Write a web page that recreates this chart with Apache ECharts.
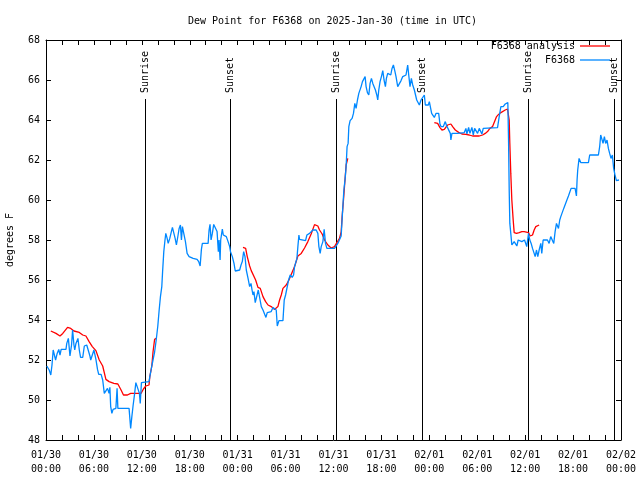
<!DOCTYPE html>
<html><head><meta charset="utf-8">
<script src="https://cdn.jsdelivr.net/npm/echarts@6/dist/echarts.min.js"></script>
<style>html,body{margin:0;padding:0;background:#fff}#c{width:640px;height:480px}</style>
</head><body><div id="c"></div>
<script>
const FONT = 'DejaVu Sans Mono';
const chartTitle = 'Dew Point for F6368 on 2025-Jan-30 (time in UTC)';
const yAxisName = 'degrees F';
const seriesNames = ['F6368 analysis', 'F6368'];
const dayLabels = ['01/30', '01/31', '02/01', '02/02'];
const sunriseHours = [12.4, 36.35, 60.42];
const sunsetHours = [23.07, 47.12, 71.2];
const eventLineTop = 65.05;

// Observed dew point (hours since 01/30 00:00 UTC, degrees F)
const obsHours = [0.1,0.4,0.6,0.75,0.9,1.2,1.4,1.6,1.75,1.9,2.5,2.6,2.8,3.0,3.2,3.33,3.5,3.6,3.75,4.0,4.17,4.33,4.6,4.8,5.1,5.33,5.5,5.6,5.8,6.0,6.25,6.45,6.6,6.9,7.1,7.3,7.5,7.7,7.9,8.0,8.1,8.25,8.4,8.75,8.9,9.0,10.4,10.6,10.75,10.9,11.1,11.25,11.45,11.7,11.8,11.95,12.9,13.0,13.25,13.4,13.6,13.8,14.0,14.17,14.33,14.5,14.6,14.75,14.9,15.0,15.17,15.3,15.5,15.7,15.83,16.04,16.17,16.33,16.54,16.67,16.83,16.96,17.08,17.25,17.46,17.67,17.92,18.42,18.92,19.12,19.3,19.46,19.58,20.3,20.42,20.54,20.67,20.83,21.0,21.25,21.42,21.58,21.67,21.8,21.875,22.08,22.2,22.37,22.58,22.8,23.0,23.1,23.33,23.54,23.7,23.92,24.25,24.42,24.58,24.75,24.92,25.08,25.3,25.5,25.67,25.8,25.92,26.04,26.2,26.42,26.58,26.75,26.96,27.17,27.42,27.54,27.7,28.2,28.42,28.67,28.83,28.96,29.17,29.67,29.83,30.0,30.2,30.375,30.5,30.58,30.83,31.0,31.125,31.42,31.54,31.67,31.75,31.96,32.5,32.67,33.0,33.2,33.42,33.625,33.83,34.04,34.17,34.33,34.46,34.67,34.83,35.0,35.17,36.125,36.33,36.54,36.75,36.96,37.17,37.3,37.46,37.58,37.7,37.83,37.92,38.08,38.33,38.5,38.67,38.83,39.0,39.17,39.33,39.46,39.625,39.83,39.96,40.08,40.25,40.42,40.58,40.75,40.92,41.08,41.25,41.42,41.54,41.67,41.83,42.0,42.17,42.33,42.5,42.625,42.79,43.0,43.17,43.33,43.5,43.67,43.83,44.04,44.25,44.46,44.67,44.875,45.08,45.29,45.42,45.58,45.75,45.92,46.125,46.25,46.42,46.58,46.75,46.96,47.17,47.375,47.5,47.67,47.875,48.0,48.17,48.29,48.5,48.625,48.83,49.17,49.33,49.46,49.75,50.0,50.17,50.33,50.5,50.625,50.7,50.83,51.54,52.375,52.58,52.7,52.92,53.08,53.33,53.5,53.67,53.92,54.04,54.25,54.46,54.58,54.75,56.54,56.75,56.96,57.25,57.5,57.67,57.83,57.92,58.0,58.08,58.2,58.33,58.5,58.625,58.83,58.96,59.125,59.375,59.58,59.75,59.92,60.08,60.2,60.42,60.58,60.75,60.92,61.125,61.25,61.42,61.58,61.75,61.96,62.08,62.25,62.79,63.0,63.2,63.42,63.58,63.75,63.92,64.04,64.17,64.33,64.46,64.67,64.83,65.08,65.25,65.42,65.58,65.75,66.25,66.42,66.5,66.58,66.75,66.96,67.92,68.08,69.17,69.33,69.46,69.58,69.75,69.92,70.08,70.25,70.42,70.58,70.75,70.92,71.08,71.25,71.42,71.625,71.75];
const obsValues = [51.7,51.5,51.25,51.75,52.5,52.0,52.33,52.53,52.25,52.53,52.53,52.83,53.08,52.2,52.75,53.5,52.75,52.5,52.83,53.08,52.5,52.13,52.13,52.7,52.75,52.7,52.2,52.0,52.0,52.5,52.03,51.53,51.28,51.28,51.0,50.33,50.33,50.58,50.33,50.63,49.67,49.33,49.53,49.58,50.58,49.58,49.58,48.58,49.17,49.7,50.33,50.87,50.87,50.33,49.83,50.87,50.92,51.17,51.7,52.0,52.4,53.0,53.7,54.5,55.17,55.67,56.42,57.42,58.0,58.33,58.08,57.83,58.08,58.42,58.63,58.63,58.08,57.75,58.25,58.58,58.75,58.0,58.67,58.75,57.92,57.33,57.17,57.08,57.03,56.92,56.7,57.53,57.83,57.83,58.5,58.78,58.0,58.33,58.78,58.78,58.42,57.42,58.0,57.0,58.0,58.55,58.25,58.2,58.17,57.92,57.67,57.42,57.17,56.83,56.45,56.5,56.5,56.75,56.92,57.42,57.17,56.5,56.08,55.67,55.83,55.5,55.25,55.42,54.87,54.87,55.5,55.58,54.67,54.5,54.5,54.13,54.37,54.42,54.63,54.67,54.5,53.7,53.97,53.97,55.0,55.25,55.25,56.0,56.0,56.25,56.13,56.25,56.67,57.08,57.67,58.25,58.03,57.97,57.97,58.25,58.33,58.33,58.5,58.53,58.5,58.33,57.67,57.33,57.67,57.92,58.53,57.83,57.58,57.58,57.67,57.83,57.92,58.2,59.67,60.5,61.08,61.67,62.67,62.83,63.67,63.97,64.08,64.33,64.83,64.58,65.0,65.33,65.33,65.67,65.92,66.0,66.17,65.67,65.37,65.25,65.83,66.08,65.83,65.75,65.5,65.25,65.0,65.5,65.92,66.17,66.47,66.0,65.67,66.08,66.33,66.42,66.25,66.58,66.75,66.47,66.17,65.67,65.7,65.97,66.17,66.08,66.25,66.75,66.25,65.67,66.08,65.75,65.5,65.42,65.0,64.92,64.75,65.0,65.08,65.25,64.75,64.83,64.75,64.92,64.97,64.33,64.33,64.13,64.33,64.33,63.8,63.67,63.67,63.92,63.7,63.58,63.67,63.33,63.0,63.33,63.33,63.37,63.58,63.3,63.63,63.33,63.63,63.25,63.58,63.58,63.33,63.58,63.58,63.3,63.58,63.62,64.17,64.67,64.67,64.8,64.87,64.87,62.92,60.5,58.83,58.33,57.75,57.67,57.92,57.92,57.7,58.0,57.92,57.92,57.83,58.0,57.95,57.67,58.33,58.0,57.83,57.58,57.33,57.17,57.5,57.17,57.5,57.83,57.33,58.0,58.0,57.83,58.17,58.25,57.83,58.42,58.83,58.83,58.58,59.0,59.17,59.13,59.58,59.67,60.03,60.2,60.25,60.58,60.58,60.2,61.0,61.5,62.08,61.87,61.87,62.25,62.25,62.67,63.25,63.08,62.83,63.17,62.83,63.0,62.58,62.33,62.08,62.25,61.58,61.25,60.97,61.03,61.0];

// Analysis (null = no analysis, breaks the line)
const anaHours = [0.6,1.25,1.75,2.1,2.7,3.1,3.5,4.17,4.6,5.0,5.4,5.8,6.25,6.67,7.1,7.5,7.9,8.5,9.0,9.4,9.7,10.2,10.6,11.9,12.2,12.5,12.9,13.0,13.25,13.4,13.6,13.8,
  19.0,
  24.67,25.0,25.2,25.5,25.7,25.92,26.25,26.54,26.83,27.17,27.5,27.8,28.2,28.62,28.83,29.04,29.25,29.46,29.67,30.08,30.42,31.125,31.54,31.96,32.375,32.79,33.2,33.625,33.83,34.04,34.25,34.58,34.875,35.3,35.7,36.125,36.42,36.75,36.96,37.08,37.25,37.375,37.58,37.79,
  43.0,
  48.625,49.04,49.33,49.58,49.875,50.29,50.7,50.92,51.25,51.67,52.08,52.58,53.0,53.42,54.25,54.67,55.0,55.29,55.58,55.92,56.17,56.42,56.67,56.96,57.5,57.79,58.0,58.08,58.2,58.33,58.5,58.625,58.92,59.25,59.58,59.875,60.08,60.42,60.625,60.92,61.125,61.33,61.54,61.75];
const anaValues = [53.45,53.33,53.2,53.33,53.63,53.58,53.45,53.38,53.25,53.2,52.92,52.67,52.47,52.0,51.7,51.03,50.92,50.83,50.8,50.5,50.25,50.25,50.33,50.33,50.55,50.7,50.75,51.17,51.7,52.4,53.03,53.08,
  null,
  57.63,57.58,57.17,56.7,56.47,56.42,56.0,55.63,55.58,55.17,54.92,54.75,54.67,54.53,54.5,54.67,55.0,55.25,55.58,55.75,56.0,56.67,57.2,57.33,57.6,57.92,58.3,58.77,58.83,58.7,58.5,58.3,58.0,57.75,57.6,57.67,57.87,58.08,58.4,59.17,60.0,60.67,61.75,62.08,
  null,
  63.87,63.83,63.62,63.5,63.53,63.75,63.8,63.67,63.5,63.38,63.3,63.28,63.25,63.2,63.2,63.25,63.33,63.42,63.58,63.67,63.92,64.17,64.28,64.37,64.5,64.55,64.0,62.83,61.33,60.0,59.0,58.37,58.33,58.37,58.42,58.42,58.33,58.37,58.2,58.25,58.5,58.67,58.75,58.75];

const obsData = obsHours.map((h, i) => [h, obsValues[i]]);
const anaData = anaHours.map((h, i) => [h, anaValues[i] === null ? '-' : anaValues[i]]);

function eventLines(hours, name) {
  const out = [];
  hours.forEach(h => {
    out.push([{ coord: [h, 48], lineStyle: { color: '#000', width: 1, type: 'solid' }, label: { show: false } },
              { coord: [h, eventLineTop] }]);
    out.push([{ coord: [h, eventLineTop], name: name, lineStyle: { color: 'rgba(0,0,0,0)', width: 0, type: 'solid' },
                label: { show: true, formatter: name, position: 'insideStart', distance: 6,
                         color: '#000', fontFamily: FONT, fontSize: 10 } },
              { coord: [h, 67.9] }]);
  });
  return out;
}

function xLabel(v) {
  const day = Math.floor(v / 24);
  const hh = v % 24;
  return dayLabels[day] + '\n' + String(hh).padStart(2, '0') + ':00';
}

const txt = { fontFamily: FONT, fontSize: 10, color: '#000' };
const axisLine = { show: true, onZero: false, lineStyle: { color: '#000', width: 1 } };
const tick = { show: true, inside: true, length: 5, lineStyle: { color: '#000' } };

const chart = echarts.init(document.getElementById('c'), null, { renderer: 'canvas' });
chart.setOption({
  animation: false,
  backgroundColor: '#fff',
  title: { text: chartTitle, left: 188, top: 16, padding: 0, textStyle: Object.assign({ fontWeight: 'normal' }, txt) },
  legend: {
    data: seriesNames, orient: 'vertical', align: 'right', right: 30, top: 41, padding: 0,
    icon: 'rect', itemWidth: 30, itemHeight: 1.3, itemGap: 4, textStyle: txt
  },
  grid: { left: 46, right: 19, top: 40, bottom: 40, containLabel: false, outerBoundsMode: 'none' },
  xAxis: [
    { type: 'value', min: 0, max: 72, interval: 6, position: 'bottom', axisLine: axisLine, axisTick: tick,
      minorTick: { show: true, splitNumber: 3, length: 5, lineStyle: { color: '#000' } },
      splitLine: { show: false },
      axisLabel: Object.assign({ formatter: xLabel, margin: 8, lineHeight: 14 }, txt) },
    { type: 'value', min: 0, max: 72, interval: 6, position: 'top', axisLine: axisLine, axisTick: tick,
      minorTick: { show: true, splitNumber: 3, length: 5, lineStyle: { color: '#000' } },
      splitLine: { show: false }, axisLabel: { show: false } }
  ],
  yAxis: [
    { type: 'value', min: 48, max: 68, interval: 2, position: 'left', axisLine: axisLine, axisTick: tick,
      splitLine: { show: false }, axisLabel: Object.assign({ margin: 6 }, txt),
      name: yAxisName, nameLocation: 'middle', nameGap: 31, nameRotate: 90, nameTextStyle: txt },
    { type: 'value', min: 48, max: 68, interval: 2, position: 'right', axisLine: axisLine, axisTick: tick,
      splitLine: { show: false }, axisLabel: { show: false } }
  ],
  series: [
    { name: seriesNames[0], type: 'line', data: anaData, symbol: 'none', connectNulls: false,
      lineStyle: { color: '#ff0000', width: 1.3 }, itemStyle: { color: '#ff0000' },
      markLine: { silent: true, symbol: ['none', 'none'], animation: false, z: 1,
        data: eventLines(sunriseHours, 'Sunrise').concat(eventLines(sunsetHours, 'Sunset')) } },
    { name: seriesNames[1], type: 'line', data: obsData, symbol: 'none',
      lineStyle: { color: '#0088ff', width: 1.3 }, itemStyle: { color: '#0088ff' } }
  ]
});
</script></body></html>
